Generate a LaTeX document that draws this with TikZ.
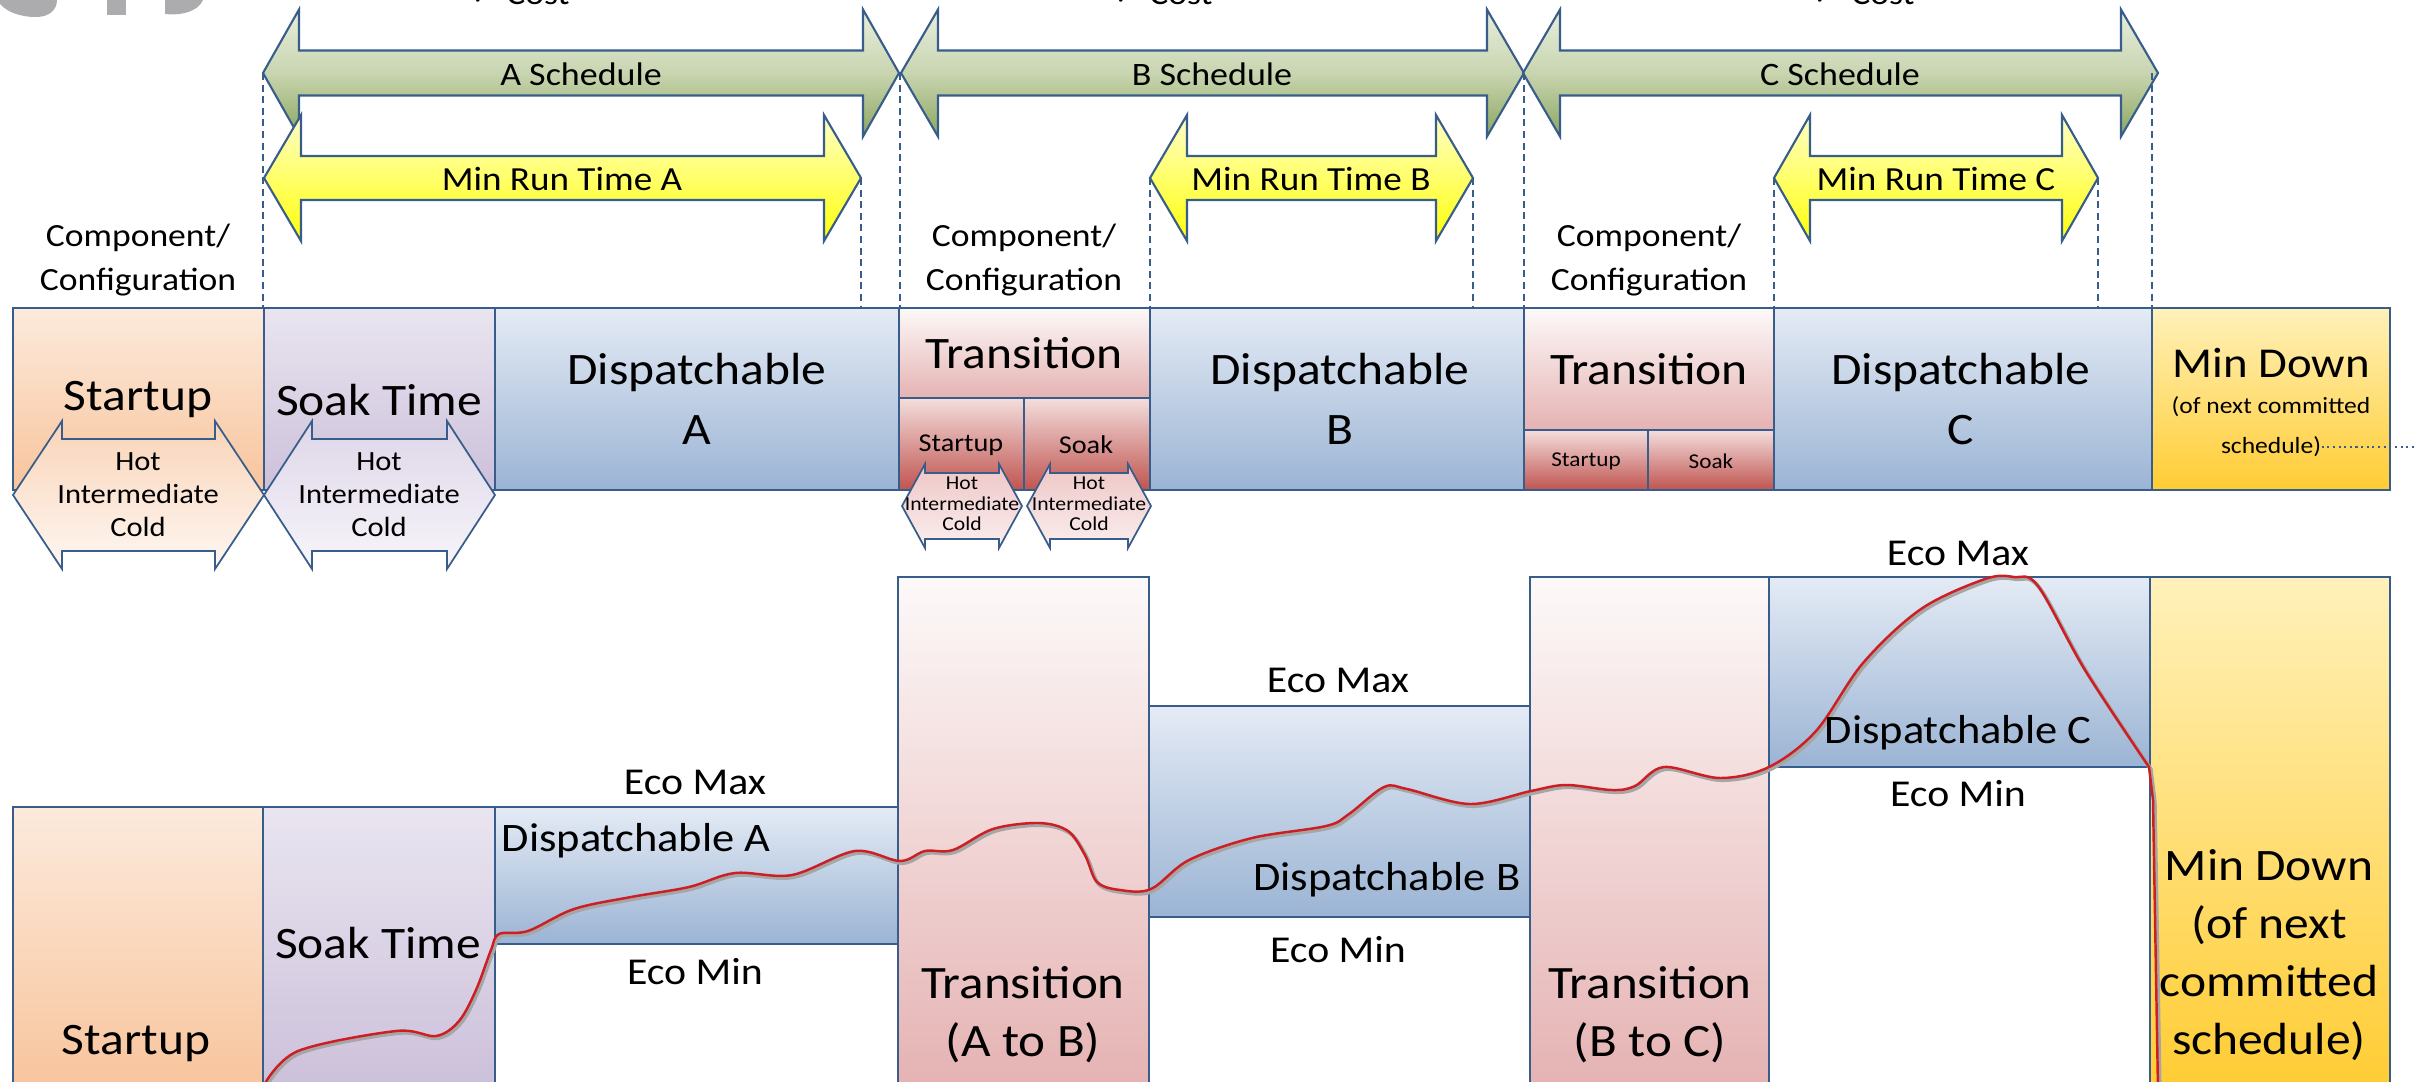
\documentclass[tikz,border=0pt]{standalone}
\usepackage{fontspec}
\setmainfont{Carlito}[FakeStretch=1.1]
\newfontfamily\tickfont{DejaVu Sans}

\definecolor{edgeblue}{RGB}{56,93,138}
\definecolor{schedtop}{RGB}{232,238,222}
\definecolor{schedmid}{RGB}{200,213,176}
\definecolor{schedbot}{RGB}{140,166,96}
\definecolor{runtop}{RGB}{255,255,200}
\definecolor{runbot}{RGB}{255,255,10}
\definecolor{starttop}{RGB}{252,234,220}
\definecolor{startbot}{RGB}{248,196,156}
\definecolor{soaktop}{RGB}{233,229,240}
\definecolor{soakbot}{RGB}{204,192,218}
\definecolor{disptop}{RGB}{228,235,245}
\definecolor{dispbot}{RGB}{155,180,212}
\definecolor{transtop}{RGB}{253,249,249}
\definecolor{transbot}{RGB}{229,178,178}
\definecolor{subtop}{RGB}{243,222,221}
\definecolor{subbot}{RGB}{192,84,80}
\definecolor{downtop}{RGB}{255,241,186}
\definecolor{downbot}{RGB}{255,204,51}
\definecolor{curvered}{RGB}{205,30,35}
\definecolor{logogray}{RGB}{172,172,174}

% double headed block arrow: left x, right x, mid y, half shaft, half head, head length
\newcommand{\dblarrow}[7][]{%
  \draw[#1] (#2,#4) -- (#2+#7,#4-#6) -- (#2+#7,#4-#5) -- (#3-#7,#4-#5)
    -- (#3-#7,#4-#6) -- (#3,#4) -- (#3-#7,#4+#6) -- (#3-#7,#4+#5)
    -- (#2+#7,#4+#5) -- (#2+#7,#4+#6) -- cycle;}

\begin{document}
\begin{tikzpicture}[x=0.01cm,y=-0.01cm,
  panel/.style={draw=edgeblue,line width=0.6pt},
  schedarrow/.style={panel,top color=schedtop,bottom color=schedbot,middle color=schedmid},
  runarrow/.style={panel,top color=runtop,bottom color=runbot},
  startfill/.style={top color=starttop,bottom color=startbot},
  soakfill/.style={top color=soaktop,bottom color=soakbot},
  dispfill/.style={top color=disptop,bottom color=dispbot},
  transfill/.style={top color=transtop,bottom color=transbot},
  subfill/.style={top color=subtop,bottom color=subbot},
  downfill/.style={top color=downtop,bottom color=downbot},
  starthex/.style={panel,line width=0.5pt,top color={rgb,255:red,249;green,212;blue,184},bottom color={rgb,255:red,254;green,247;blue,242}},
  soakhex/.style={panel,line width=0.5pt,top color={rgb,255:red,222;green,214;blue,232},bottom color={rgb,255:red,247;green,245;blue,250}},
  subhex/.style={panel,line width=0.5pt,top color={rgb,255:red,238;green,198;blue,198},bottom color={rgb,255:red,251;green,238;blue,238}},
  guideline/.style={draw=edgeblue,line width=0.35pt,dash pattern=on 2pt off 1.3pt},
  txt/.style={inner sep=0pt,align=center},
  schedlbl/.style={txt,font=\fontsize{9.3}{11}\selectfont},
  runlbl/.style={txt,font=\fontsize{9.6}{11}\selectfont},
  complbl/.style={txt,font=\fontsize{9.2}{12.5}\selectfont},
  biglbl/.style={txt,font=\fontsize{12.8}{17}\selectfont},
  hexlbl/.style={txt,font=\fontsize{7.9}{9.4}\selectfont},
  tinylbl/.style={txt,font=\fontsize{5.6}{5.8}\selectfont},
  ecolbl/.style={txt,font=\fontsize{10.8}{13}\selectfont},
  displbl/.style={txt,font=\fontsize{11.5}{14}\selectfont},
  tallbl/.style={txt,font=\fontsize{13.2}{16.5}\selectfont},
  downlbl/.style={txt,font=\fontsize{12.8}{16.5}\selectfont},
  loadcurve/.style={draw=curvered,line width=0.7pt},
  curveshade/.style={draw=black!35,line width=1.1pt}]

\path[use as bounding box] (0,0) rectangle (2417,1081);
\clip (0,0) rectangle (2417,1081);

% cut off slide header
\fill[logogray] (0,0) -- (0,4) .. controls (8,13) and (22,17) .. (36,17) .. controls (49,17) and (57,10) .. (57,0) -- cycle;
\fill[logogray] (107,0) rectangle (126,15);
\fill[logogray] (165,0) -- (165,14) .. controls (184,16) and (199,10) .. (203,0) -- cycle;
\node[anchor=base,inner sep=0pt,font=\tickfont\fontsize{7}{8}\selectfont] (tick1) at (482,4) {✓};
\node[anchor=base,complbl] (cost1) at (538,4) {Cost};
\node[anchor=base,inner sep=0pt,font=\tickfont\fontsize{7}{8}\selectfont] (tick2) at (1125,4) {✓};
\node[anchor=base,complbl] (cost2) at (1181,4) {Cost};
\node[anchor=base,inner sep=0pt,font=\tickfont\fontsize{7}{8}\selectfont] (tick3) at (1824,4) {✓};
\node[anchor=base,complbl] (cost3) at (1883,4) {Cost};

% schedules and min run times
\dblarrow[schedarrow]{263}{899}{73}{22.5}{63.5}{36}
\dblarrow[schedarrow]{901}{1524}{73}{22.5}{63.5}{37}
\dblarrow[schedarrow]{1523}{2158}{73}{22.5}{63.5}{37}
\node[schedlbl] (schedA) at (581,74) {A Schedule};
\node[schedlbl] (schedB) at (1212,74) {B Schedule};
\node[schedlbl] (schedC) at (1840,74) {C Schedule};

\dblarrow[runarrow]{264}{861}{178}{22}{63}{37}
\dblarrow[runarrow]{1150}{1473}{178}{22}{63}{37}
\dblarrow[runarrow]{1774}{2098}{178}{22}{63}{36}
\node[runlbl] (runA) at (562,179) {Min Run Time A};
\node[runlbl] (runB) at (1311,179) {Min Run Time B};
\node[runlbl] (runC) at (1936,179) {Min Run Time C};

% dashed guides down to the row
\coordinate (rowtop) at (0,308);
\coordinate (gA0) at (263,73);
\coordinate (gA1) at (861,178);
\coordinate (gB0) at (900,73);
\coordinate (gB1) at (1150,178);
\coordinate (gB2) at (1473,178);
\coordinate (gC0) at (1524,73);
\coordinate (gC1) at (1774,178);
\coordinate (gC2) at (2098,178);
\coordinate (gC3) at (2152,73);
\draw[guideline] (gA0) -- (gA0 |- rowtop);
\draw[guideline] (gA1) -- (gA1 |- rowtop);
\draw[guideline] (gB0) -- (gB0 |- rowtop);
\draw[guideline] (gB1) -- (gB1 |- rowtop);
\draw[guideline] (gB2) -- (gB2 |- rowtop);
\draw[guideline] (gC0) -- (gC0 |- rowtop);
\draw[guideline] (gC1) -- (gC1 |- rowtop);
\draw[guideline] (gC2) -- (gC2 |- rowtop);
\draw[guideline] (gC3) -- (gC3 |- rowtop);

\node[complbl] (compStart) at (138,260) {Component/\\Configuration};
\node[complbl] (compB) at (1024,260) {Component/\\Configuration};
\node[complbl] (compC) at (1649,260) {Component/\\Configuration};

% top row
\draw[panel,startfill] (13,308) rectangle (264,490);
\draw[panel,soakfill] (264,308) rectangle (495,490);
\draw[panel,dispfill] (495,308) rectangle (899,490);
\draw[panel,transfill] (899,308) rectangle (1150,398);
\draw[panel,subfill] (899,398) rectangle (1024,490);
\draw[panel,subfill] (1024,398) rectangle (1150,490);
\draw[panel,dispfill] (1150,308) rectangle (1524,490);
\draw[panel,transfill] (1524,308) rectangle (1774,430);
\draw[panel,subfill] (1524,430) rectangle (1648,490);
\draw[panel,subfill] (1648,430) rectangle (1774,490);
\draw[panel,dispfill] (1774,308) rectangle (2152,490);
\draw[panel,downfill] (2152,308) rectangle (2390,490);

\dblarrow[starthex]{13}{264}{495}{56}{74}{49}
\dblarrow[soakhex]{264}{495}{495}{56}{74}{48}
\dblarrow[subhex]{902}{1022}{506}{33}{42}{23}
\dblarrow[subhex]{1027}{1151}{506}{33}{42}{23}

\node[biglbl] (topStart) at (138,400) {Startup};
\node[hexlbl] (hexStart) at (138,495) {Hot\\Intermediate\\Cold};
\node[biglbl] (topSoak) at (379,400) {Soak Time};
\node[hexlbl] (hexSoak) at (379,495) {Hot\\Intermediate\\Cold};
\node[biglbl] (topDispA) at (697,399) {Dispatchable\\A};
\node[biglbl] (topTransB) at (1024,353) {Transition};
\node[txt,font=\fontsize{7.3}{10}\selectfont] (subStartB) at (961,445) {Startup};
\node[txt,font=\fontsize{7.3}{10}\selectfont] (subSoakB) at (1086,445) {Soak};
\node[tinylbl] (hexSubStartB) at (962,504) {Hot\\Intermediate\\Cold};
\node[tinylbl] (hexSubSoakB) at (1089,504) {Hot\\Intermediate\\Cold};
\node[biglbl] (topDispB) at (1340,399) {Dispatchable\\B};
\node[biglbl] (topTransC) at (1649,369) {Transition};
\node[txt,font=\fontsize{6}{8}\selectfont] (subStartC) at (1586,461) {Startup};
\node[txt,font=\fontsize{6}{8}\selectfont] (subSoakC) at (1711,461) {Soak};
\node[biglbl] (topDispC) at (1961,399) {Dispatchable\\C};
\node[txt,font=\fontsize{12.1}{16}\selectfont] (topDown) at (2271,363) {Min Down};
\node[txt,font=\fontsize{6.6}{8}\selectfont] (downNote) at (2271,407) {(of next committed};
\node[txt,font=\fontsize{6.6}{8}\selectfont] (downSched) at (2271,447) {schedule)};
\coordinate (rightedge) at (2417,439);
\draw[draw=edgeblue,line width=0.6pt,densely dotted] (downSched.east) -- (downSched.east -| rightedge);

% bottom chart
\draw[panel,startfill] (13,807) rectangle (263,1090);
\draw[panel,soakfill] (263,807) rectangle (495,1090);
\draw[panel,dispfill] (495,807) rectangle (898,944);
\draw[panel,transfill] (898,577) rectangle (1149,1090);
\draw[panel,dispfill] (1149,706) rectangle (1530,917);
\draw[panel,transfill] (1530,577) rectangle (1769,1090);
\draw[panel,dispfill] (1769,577) rectangle (2150,767);
\draw[panel,downfill] (2150,577) rectangle (2390,1090);

% output curve
\draw[curveshade,xshift=0.5pt,yshift=-0.6pt] plot[smooth,tension=0.55] coordinates {(264,1085) (298,1051) (396,1031) (436,1036) (459,1021) (476,990) (491,950) (499,934) (528,931) (574,909) (631,897) (689,887) (735,873) (792,875) (855,851) (900,861) (925,851) (953,850) (993,829) (1039,823) (1068,831) (1085,855) (1097,882) (1120,890) (1151,889) (1189,860) (1252,838) (1326,826) (1349,814) (1384,787) (1407,789) (1470,804) (1531,791) (1566,785) (1612,790) (1635,786) (1664,767) (1720,778) (1769,767) (1816,731) (1863,663) (1921,609) (1985,579) (2014,577) (2038,586) (2085,670) (2149,767)} -- (2153,800) -- (2158,1090);
\draw[loadcurve] plot[smooth,tension=0.55] coordinates {(264,1085) (298,1051) (396,1031) (436,1036) (459,1021) (476,990) (491,950) (499,934) (528,931) (574,909) (631,897) (689,887) (735,873) (792,875) (855,851) (900,861) (925,851) (953,850) (993,829) (1039,823) (1068,831) (1085,855) (1097,882) (1120,890) (1151,889) (1189,860) (1252,838) (1326,826) (1349,814) (1384,787) (1407,789) (1470,804) (1531,791) (1566,785) (1612,790) (1635,786) (1664,767) (1720,778) (1769,767) (1816,731) (1863,663) (1921,609) (1985,579) (2014,577) (2038,586) (2085,670) (2149,767)} -- (2153,800) -- (2158,1090);

\node[biglbl] (botStart) at (136,1044) {Startup};
\node[biglbl] (botSoak) at (378,943) {Soak Time};
\node[ecolbl] (maxA) at (695,782) {Eco Max};
\node[displbl,anchor=west] (botDispA) at (501,841) {Dispatchable A};
\node[ecolbl] (minA) at (695,972) {Eco Min};
\node[tallbl] (botTransB) at (1023,1015) {Transition\\(A to B)};
\node[ecolbl] (maxB) at (1338,680) {Eco Max};
\node[displbl,anchor=east] (botDispB) at (1521,880) {Dispatchable B};
\node[ecolbl] (minB) at (1338,950) {Eco Min};
\node[tallbl] (botTransC) at (1650,1015) {Transition\\(B to C)};
\node[ecolbl] (maxC) at (1958,553) {Eco Max};
\node[displbl] (botDispC) at (1958,733) {Dispatchable C};
\node[ecolbl] (minC) at (1958,794) {Eco Min};
\node[downlbl] (botDown) at (2269,955) {Min Down\\(of next\\committed\\schedule)};
\end{tikzpicture}
\end{document}
